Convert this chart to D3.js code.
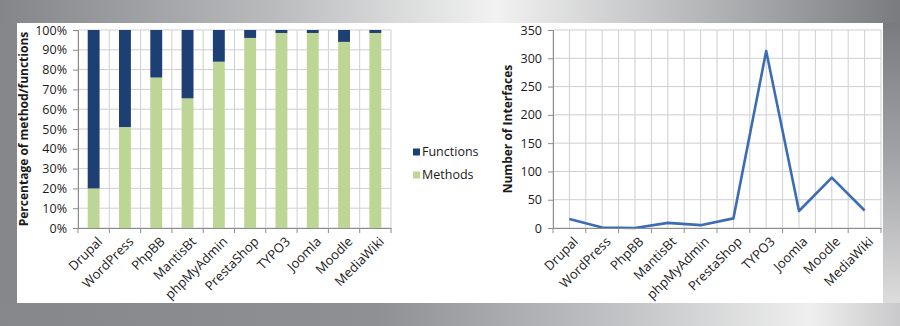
<!DOCTYPE html>
<html>
<head>
<meta charset="utf-8">
<script src="https://cdn.jsdelivr.net/npm/d3@7"></script>
<style>
  body { margin: 0; background: #8a8b8f; }
  svg text { font-family: "Open Sans", sans-serif; fill: #1a1a1a; }
</style>
</head>
<body>
<svg width="900" height="326"></svg>
<script>
// data
const systems = ['Drupal', 'WordPress', 'PhpBB', 'MantisBt', 'phpMyAdmin', 'PrestaShop', 'TYPO3', 'Joomla', 'Moodle', 'MediaWiki'];
const methodsPct = [20, 51, 76, 65.5, 84, 96, 98.5, 98.5, 94, 98.5];
const functionsPct = [80, 49, 24, 34.5, 16, 4, 1.5, 1.5, 6, 1.5];
const interfaces = [16, 1, 0, 9, 5, 17, 313, 30, 89, 31];
const pctTicks = [0, 10, 20, 30, 40, 50, 60, 70, 80, 90, 100];
const countTicks = [0, 50, 100, 150, 200, 250, 300, 350];
const legendLabels = ['Functions', 'Methods'];

const svg = d3.select('svg');
const width = +svg.attr('width');
const height = +svg.attr('height');

const navy = '#1d3f74';
const green = '#bdd595';
const gridColor = '#cfcfcf';
const axisColor = '#8c8c8c';

// ---- gray frame around the white panel
const defs = svg.append('defs');
const topGrad = defs.append('linearGradient').attr('id', 'topG');
[[0, '#848589'], [0.3, '#b9babc'], [0.55, '#f2f2f2'], [0.8, '#b0b1b3'], [1, '#7a7b7f']]
  .forEach(([o, c]) => topGrad.append('stop').attr('offset', o).attr('stop-color', c));
const botGrad = defs.append('linearGradient').attr('id', 'botG');
[[0, '#86878b'], [0.42, '#8f9094'], [0.7, '#c4c5c7'], [0.9, '#efefef'], [1, '#c9c9cb']]
  .forEach(([o, c]) => botGrad.append('stop').attr('offset', o).attr('stop-color', c));
const rightGrad = defs.append('linearGradient').attr('id', 'rightG')
  .attr('x1', 0).attr('x2', 0).attr('y1', 0).attr('y2', 1);
[[0, '#7a7b7f'], [0.5, '#a4a5a8'], [1, '#dcdcdc']]
  .forEach(([o, c]) => rightGrad.append('stop').attr('offset', o).attr('stop-color', c));

svg.append('rect').attr('width', width).attr('height', height).attr('fill', '#86878b');
svg.append('rect').attr('width', width).attr('height', 23).attr('fill', 'url(#topG)');
svg.append('rect').attr('y', 303).attr('width', width).attr('height', 23).attr('fill', 'url(#botG)');
svg.append('rect').attr('x', 883).attr('y', 23).attr('width', 17).attr('height', 280).attr('fill', 'url(#rightG)');
svg.append('rect').attr('x', 17).attr('y', 23).attr('width', 866).attr('height', 280).attr('fill', '#fff');

const plotTop = 30, plotBottom = 228;

function drawGrid(g, x, y, ticks) {
  const x0 = x.range()[0], x1 = x.range()[1];
  const step = x.step() / 2;
  const vlines = d3.range(0, systems.length * 2 + 1).map(i => x0 + i * step);
  g.selectAll('line.v').data(vlines).join('line')
    .attr('x1', d => d).attr('x2', d => d)
    .attr('y1', plotTop).attr('y2', plotBottom)
    .attr('stroke', gridColor);
  g.selectAll('line.h').data(ticks).join('line')
    .attr('x1', x0).attr('x2', x1)
    .attr('y1', d => y(d)).attr('y2', d => y(d))
    .attr('stroke', gridColor);
}

function drawAxes(g, x, y, ticks, fmt, title, titleX) {
  const x0 = x.range()[0];
  const yAxis = g.append('g')
    .attr('transform', `translate(${x0},0)`)
    .call(d3.axisLeft(y).tickValues(ticks).tickFormat(fmt).tickSize(5).tickPadding(6));
  yAxis.select('.domain').attr('stroke', axisColor);
  yAxis.selectAll('.tick line').attr('stroke', axisColor);
  yAxis.selectAll('.tick text').attr('font-size', 12.5).attr('font-family', '"Open Sans", sans-serif');

  const xAxis = g.append('g')
    .attr('transform', `translate(0,${plotBottom})`)
    .call(d3.axisBottom(x).tickSize(0).tickFormat(''));
  xAxis.select('.domain').attr('stroke', axisColor);

  // tick marks at category boundaries
  const bounds = d3.range(0, systems.length + 1).map(i => x0 + i * x.step());
  g.selectAll('line.xt').data(bounds).join('line')
    .attr('x1', d => d).attr('x2', d => d)
    .attr('y1', plotBottom).attr('y2', plotBottom + 5)
    .attr('stroke', axisColor);

  g.selectAll('text.xl').data(systems).join('text')
    .attr('class', 'xl')
    .attr('transform', d => `translate(${x(d) + x.bandwidth() / 2 + 3},${plotBottom + 8}) rotate(-45)`)
    .attr('text-anchor', 'end')
    .attr('dy', '0.7em')
    .attr('font-size', 13)
    .text(d => d);

  g.append('text')
    .attr('transform', `translate(${titleX},${(plotTop + plotBottom) / 2}) rotate(-90)`)
    .attr('text-anchor', 'middle')
    .attr('font-size', 12)
    .attr('font-weight', 'bold')
    .text(title);
}

// ---- left: stacked percentage bars
const left = svg.append('g');
const xL = d3.scaleBand().domain(systems).range([78, 391]).paddingInner(0.62).paddingOuter(0.31);
const xLgrid = d3.scaleBand().domain(systems).range([78, 391]);
const yL = d3.scaleLinear().domain([0, 100]).range([plotBottom, plotTop]);

drawGrid(left, xLgrid, yL, pctTicks);

const stackRows = systems.map((s, i) => ({ system: s, Methods: methodsPct[i], Functions: functionsPct[i] }));
const series = d3.stack().keys(['Methods', 'Functions'])(stackRows);
const colorL = d3.scaleOrdinal().domain(['Functions', 'Methods']).range([navy, green]);

left.selectAll('g.layer').data(series).join('g')
  .attr('fill', d => colorL(d.key))
  .selectAll('rect').data(d => d).join('rect')
    .attr('x', d => xL(d.data.system))
    .attr('width', xL.bandwidth())
    .attr('y', d => yL(d[1]))
    .attr('height', d => yL(d[0]) - yL(d[1]));

drawAxes(left, xLgrid, yL, pctTicks, d => d + '%', 'Percentage of method/functions', 28);

// legend
const legend = left.append('g').attr('transform', 'translate(413,152)');
legend.selectAll('g').data(legendLabels).join('g')
  .attr('transform', (d, i) => `translate(0,${i * 23})`)
  .call(sel => {
    sel.append('rect').attr('y', -3.5).attr('width', 7).attr('height', 7).attr('fill', d => colorL(d));
    sel.append('text').attr('x', 9).attr('dy', '0.35em').attr('font-size', 12.5).text(d => d);
  });

// ---- right: line chart of interfaces
const right = svg.append('g');
const xR = d3.scaleBand().domain(systems).range([553, 881]);
const yR = d3.scaleLinear().domain([0, 350]).range([plotBottom, plotTop]);

drawGrid(right, xR, yR, countTicks);

const line = d3.line()
  .x((d, i) => xR(systems[i]) + xR.bandwidth() / 2)
  .y(d => yR(d));

right.append('path')
  .datum(interfaces)
  .attr('d', line)
  .attr('fill', 'none')
  .attr('stroke', '#3c6cb4')
  .attr('stroke-width', 2.6)
  .attr('stroke-linejoin', 'round');

drawAxes(right, xR, yR, countTicks, d3.format('d'), 'Number of Interfaces', 512);
</script>
</body>
</html>
